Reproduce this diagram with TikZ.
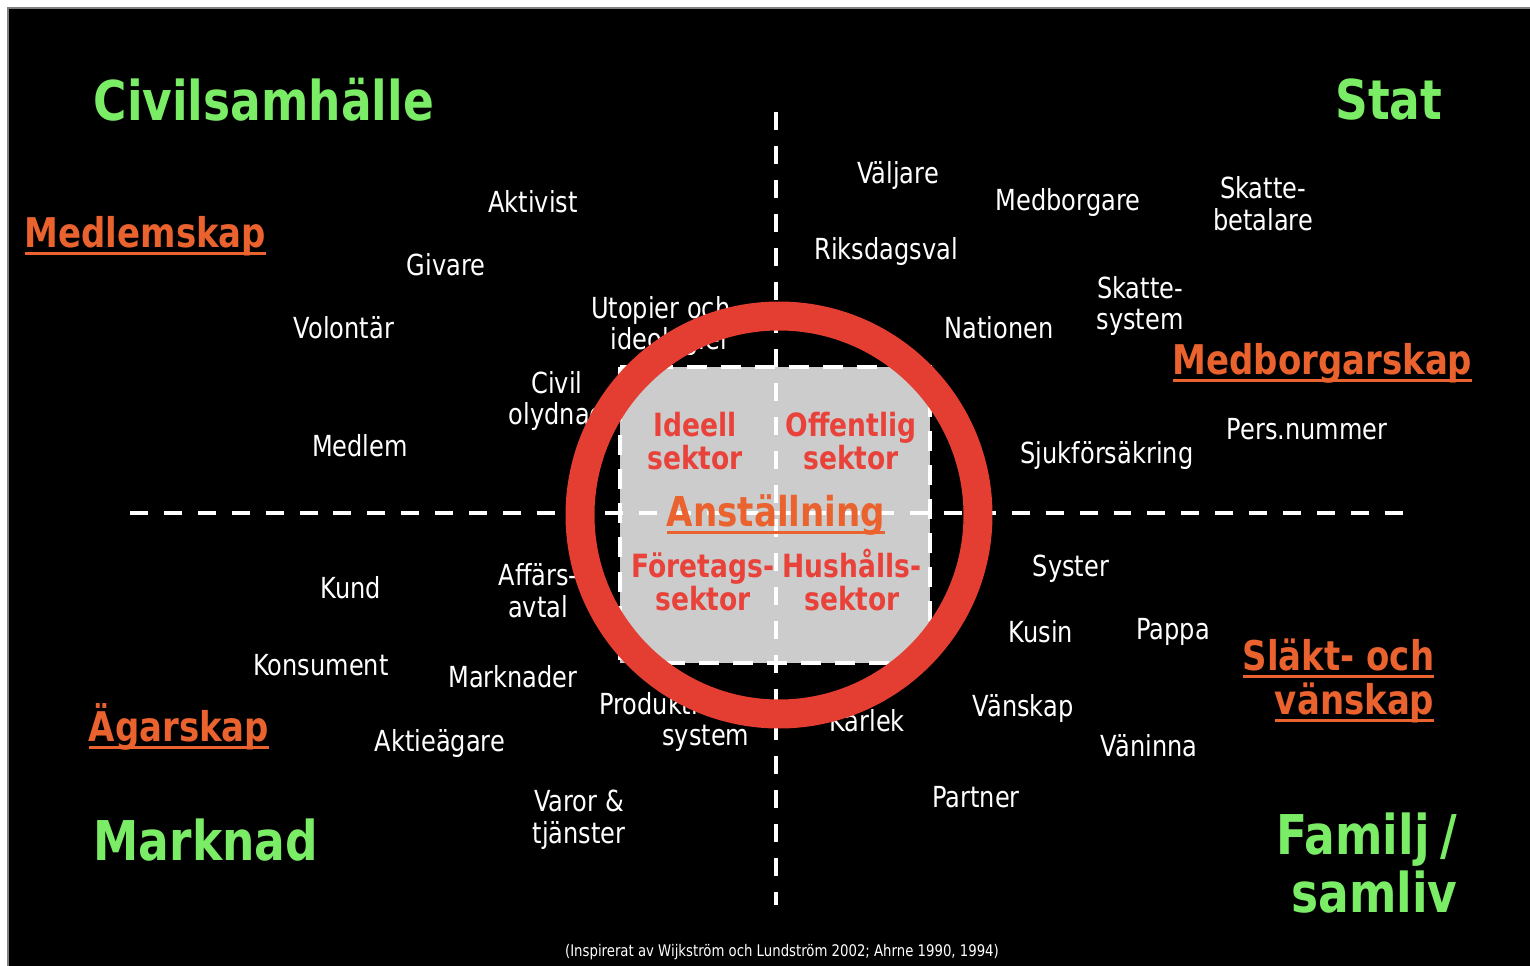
\documentclass[tikz,border=0pt]{standalone}
\usepackage{fontspec}
\setmainfont{DejaVu Sans}[FakeStretch=0.83]
\definecolor{sectorgreen}{RGB}{122,236,102}
\definecolor{roleorange}{RGB}{234,98,46}
\definecolor{ringred}{RGB}{228,62,50}
\definecolor{sectorred}{RGB}{232,66,58}
\definecolor{boxgray}{RGB}{204,204,204}
% underline that keeps the height of the line
\newcommand{\underrole}[1]{\setbox0\hbox{#1}\leavevmode
  \rlap{\smash{\vrule height -0.11em depth 0.19em width \wd0}}\box0}
\begin{document}
\begin{tikzpicture}[x = 0.1mm,
                    y = -0.1mm,
                    word/.style = {text=white, inner sep=0pt, align=center,
                                   font=\fontsize{8.25}{9.1}\selectfont},
                    sphere/.style = {text=sectorgreen, inner sep=0pt, align=center,
                                     font=\fontsize{15.6}{16.4}\selectfont\bfseries},
                    role/.style = {text=roleorange, inner sep=0pt, align=center,
                                   font=\fontsize{11.65}{12.5}\selectfont\bfseries},
                    sector/.style = {text=sectorred, inner sep=0pt, align=center,
                                     font=\fontsize{9.1}{9.4}\selectfont\bfseries}]
% style of the lines
\tikzset{axisline/.style={white,line width=1.14pt,dash pattern=on 5.1pt off 4.55pt}}
\useasboundingbox (0,0) rectangle (1530,966);
%background
\fill[white] (0,0) rectangle (1530,966);
\draw[fill=black,draw=gray] (8,8) rectangle (1531,967);

%spheres
\node[sphere,anchor=west] (civil) at (93,100) {Civilsamhälle};
\node[sphere,anchor=east] (stat) at (1443,100) {Stat};
\node[sphere,anchor=west] (marknad) at (93,840) {Marknad};
\node[sphere,anchor=east,align=right] (familj) at (1458,863) {Familj\kern0.2em/\\samliv};

%roles
\node[role,anchor=west] (medlemskap) at (24,236) {\underrole{Medlemskap}};
\node[role,anchor=east] (medborgarskap) at (1473,363) {\underrole{Medborgarskap}};
\node[role,anchor=east,align=right] (slakt) at (1435,681) {\underrole{Släkt- och}\\\underrole{vänskap}};
\node[role,anchor=west] (agarskap) at (88,727) {\underrole{Ägarskap}};

%civil society
\node[word] (aktivist) at (533,202) {Aktivist};
\node[word] (givare) at (446,265) {Givare};
\node[word] (volontar) at (344,328) {Volontär};
\node[word,anchor=east,align=right] (utopier) at (731,326) {Utopier och\\ideologier};
\node[word] (civilolydnad) at (557,401) {Civil\\olydnad};
\node[word] (medlem) at (360,446) {Medlem};
%state
\node[word] (valjare) at (898,176) {Väljare};
\node[word] (medborgare) at (1068,202) {Medborgare};
\node[word] (betalare) at (1263,204) {Skatte-\\betalare};
\node[word] (riksdagsval) at (886,252) {Riksdagsval};
\node[word] (nationen) at (999,328) {Nationen};
\node[word] (skattesystem) at (1140,306) {Skatte-\\system};
\node[word] (persnummer) at (1307,429) {Pers.nummer};
\node[word] (sjukforsakring) at (1107,455) {Sjukförsäkring};
%market
\node[word] (kund) at (351,588) {Kund};
\node[word] (affarsavtal) at (538,591) {Affärs-\\avtal};
\node[word] (konsument) at (321,665) {Konsument};
\node[word] (marknader) at (513,677) {Marknader};
\node[word] (aktieagare) at (440,743) {Aktieägare};
\node[word,anchor=east,align=right] (produktion) at (750,722) {Produktions-\\system};
\node[word] (varor) at (579,820) {Varor \&\\tjänster};
%family
\node[word] (karlek) at (867,721) {Kärlek};
\node[word] (syster) at (1071,569) {Syster};
\node[word] (kusin) at (1041,632) {Kusin};
\node[word] (pappa) at (1173,632) {Pappa};
\node[word] (vanskap) at (1023,708) {Vänskap};
\node[word] (vaninna) at (1149,746) {Väninna};
\node[word] (partner) at (976,797) {Partner};

%source
\node[word,font=\fontsize{4.55}{5}\selectfont] (kalla) at (782,952)
  {(Inspirerat av Wijkström och Lundström 2002; Ahrne 1990, 1994)};

%box
\draw[fill=boxgray,draw=white,line width=1.14pt,dash pattern=on 5.7pt off 4pt] (620,367) rectangle (930,663);
%axes
\draw[axisline] (776,112) -- (776,905);
\draw[axisline] (130,513) -- (1410,513);

%ring
\draw[ringred,line width=8.25pt] (779,515) circle (199);

%sectors
\node[sector] (ideell) at (695,441) {Ideell\\sektor};
\node[sector] (offentlig) at (851,441) {Offentlig\\sektor};
\node[sector] (foretag) at (703,582) {Företags-\\sektor};
\node[sector] (hushall) at (852,580) {Hushålls-\\sektor};
\node[sector,text=roleorange,font=\fontsize{11.7}{12}\selectfont\bfseries] (anstallning) at (776,515)
  {\underrole{Anställning}};
\end{tikzpicture}
\end{document}
